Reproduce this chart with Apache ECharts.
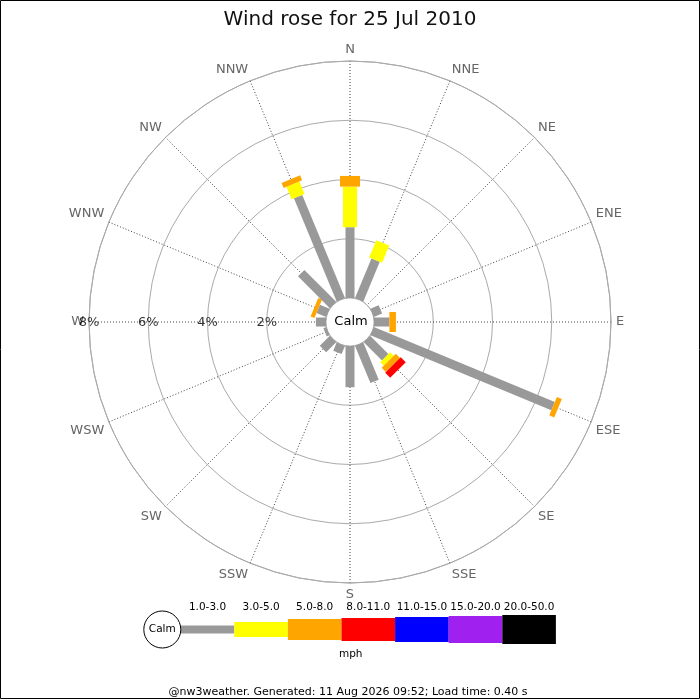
<!DOCTYPE html>
<html><head><meta charset="utf-8">
<script src="https://cdn.jsdelivr.net/npm/echarts@6/dist/echarts.min.js"></script>
<style>html,body{margin:0;padding:0;background:#fff}#c{width:700px;height:700px}</style>
</head><body><div id="c"></div>
<script>
// Directions (clockwise from North)
const directions = ['N','NNE','NE','ENE','E','ESE','SE','SSE','S','SSW','SW','WSW','W','WNW','NW','NNW'];
// Speed bands (mph)
const bandLabels = ['1.0-3.0','3.0-5.0','5.0-8.0','8.0-11.0','11.0-15.0','15.0-20.0','20.0-50.0'];
// Frequency (%) per direction for each band
const speed1to3   = [2.39, 1.45, 0, 0.30, 0.52, 6.61, 0.87, 1.36, 1.39, 0.30, 0.48, 0.10, 0.34, 0.35, 1.52, 3.77];
const speed3to5   = [1.37, 0.63, 0, 0, 0, 0, 0.17, 0, 0, 0, 0, 0, 0, 0, 0, 0.46];
const speed5to8   = [0.36, 0, 0, 0, 0.22, 0.18, 0.20, 0, 0, 0, 0, 0, 0, 0.14, 0, 0.18];
const speed8to11  = [0, 0, 0, 0, 0, 0, 0.24, 0, 0, 0, 0, 0, 0, 0, 0, 0];
const speed11to15 = [0, 0, 0, 0, 0, 0, 0, 0, 0, 0, 0, 0, 0, 0, 0, 0];
const speed15to20 = [0, 0, 0, 0, 0, 0, 0, 0, 0, 0, 0, 0, 0, 0, 0, 0];
const speed20to50 = [0, 0, 0, 0, 0, 0, 0, 0, 0, 0, 0, 0, 0, 0, 0, 0];
// Radial tick labels
const radiusTicks = [2, 4, 6, 8];
const radiusTickLabels = ['2%', '4%', '6%', '8%'];

const bandValues = [speed1to3, speed3to5, speed5to8, speed8to11, speed11to15, speed15to20, speed20to50];
const bandColors = ['#999999', '#ffff00', '#ffa500', '#ff0000', '#0000ff', '#a020f0', '#000000'];
const bandWidths = [9, 14, 20, 22, 24, 26, 28];
const legendHeights = [8, 15, 21, 23, 25, 27, 29];
const FONT = 'DejaVu Sans';

const step = 360 / directions.length;
const barData = [];
directions.forEach((d, i) => {
  let acc = 0;
  bandValues.forEach((vals, k) => {
    const v = vals[i];
    if (v > 0) { barData.push([acc, i * step, acc + v, k]); acc += v; }
  });
});

function renderItem(params, api) {
  const r0 = api.value(0), ang = api.value(1), r1 = api.value(2), k = api.value(3);
  const p0 = api.coord([r0, ang]);
  const p1 = api.coord([r1, ang]);
  const dx = p1[0] - p0[0], dy = p1[1] - p0[1];
  const len = Math.hypot(dx, dy) || 1;
  const hw = bandWidths[k] / 2;
  const nx = -dy / len * hw, ny = dx / len * hw;
  return {
    type: 'polygon',
    shape: { points: [[p0[0] + nx, p0[1] + ny], [p1[0] + nx, p1[1] + ny], [p1[0] - nx, p1[1] - ny], [p0[0] - nx, p0[1] - ny]] },
    style: { fill: bandColors[k] }
  };
}

// Legend graphics built from band arrays
const legendX0 = 180.7, legendW = 53.6, legendY = 629.5;
const graphics = [
  { type: 'rect', shape: { x: 0.5, y: 0.5, width: 699, height: 698 }, style: { fill: 'none', stroke: '#000', lineWidth: 1 }, z: 100 },
  { type: 'circle', shape: { cx: 350, cy: 322, r: 23.5 }, style: { fill: '#fff' }, z: 100 },
  { type: 'text', x: 351, y: 322, style: { text: 'Calm', fontFamily: FONT, fontSize: 13, fill: '#000', align: 'center', verticalAlign: 'middle' }, z: 101 },
  { type: 'circle', shape: { cx: 162.3, cy: legendY, r: 18.5 }, style: { fill: '#fff', stroke: '#000', lineWidth: 1 }, z: 100 },
  { type: 'text', x: 162.3, y: legendY, style: { text: 'Calm', fontFamily: FONT, fontSize: 10.5, fill: '#000', align: 'center', verticalAlign: 'middle' }, z: 101 },
  { type: 'text', x: 350.7, y: 654, style: { text: 'mph', fontFamily: FONT, fontSize: 10.5, fill: '#000', align: 'center', verticalAlign: 'middle' }, z: 101 },
  { type: 'text', x: 348, y: 692.5, style: { text: '@nw3weather. Generated: 11 Aug 2026 09:52; Load time: 0.40 s', fontFamily: FONT, fontSize: 11, fill: '#000', align: 'center', verticalAlign: 'middle' }, z: 101 }
];
bandLabels.forEach((lab, k) => {
  const x = legendX0 + k * legendW;
  graphics.push({ type: 'rect', shape: { x: x, y: legendY - legendHeights[k] / 2, width: legendW, height: legendHeights[k] }, style: { fill: bandColors[k] }, z: 99 });
  graphics.push({ type: 'text', x: x + legendW / 2, y: 607.5, style: { text: lab, fontFamily: FONT, fontSize: 10.5, fill: '#000', align: 'center', verticalAlign: 'middle' }, z: 101 });
});

const chart = echarts.init(document.getElementById('c'));
chart.setOption({
  animation: false,
  backgroundColor: '#fff',
  textStyle: { fontFamily: FONT },
  title: { text: 'Wind rose for 25 Jul 2010', left: 'center', top: 5, textStyle: { fontFamily: FONT, fontSize: 20, fontWeight: 'normal', color: '#111' } },
  polar: { center: [350, 322], radius: [24, 261] },
  angleAxis: {
    type: 'value', min: 0, max: 360, interval: step, startAngle: 90, clockwise: true,
    axisLine: { show: true, lineStyle: { color: '#aaa', width: 1 } },
    axisTick: { show: false },
    axisLabel: { show: true, margin: 5, color: '#666', fontSize: 13, fontFamily: FONT,
      formatter: v => directions[Math.round(v / step) % directions.length] },
    splitLine: { show: true, lineStyle: { color: '#444', width: 1, type: [1, 2] } }
  },
  radiusAxis: {
    type: 'value', min: 0, max: 8, interval: 2,
    axisLine: { show: false }, axisTick: { show: false }, axisLabel: { show: false },
    splitLine: { show: true, lineStyle: { color: '#aaa', width: 1 } }
  },
  graphic: graphics,
  series: [
    { type: 'custom', coordinateSystem: 'polar', renderItem: renderItem, data: barData, encode: { radius: 0, angle: 1 }, z: 5, silent: true },
    { type: 'scatter', coordinateSystem: 'polar', data: radiusTicks.map(t => [t, 270]), symbolSize: 1,
      itemStyle: { color: 'rgba(0,0,0,0)' }, silent: true, z: 10,
      label: { show: true, position: 'inside', color: '#000', fontSize: 13, fontFamily: FONT, offset: [0, 1],
        formatter: p => radiusTickLabels[p.dataIndex] } }
  ]
});
</script></body></html>
